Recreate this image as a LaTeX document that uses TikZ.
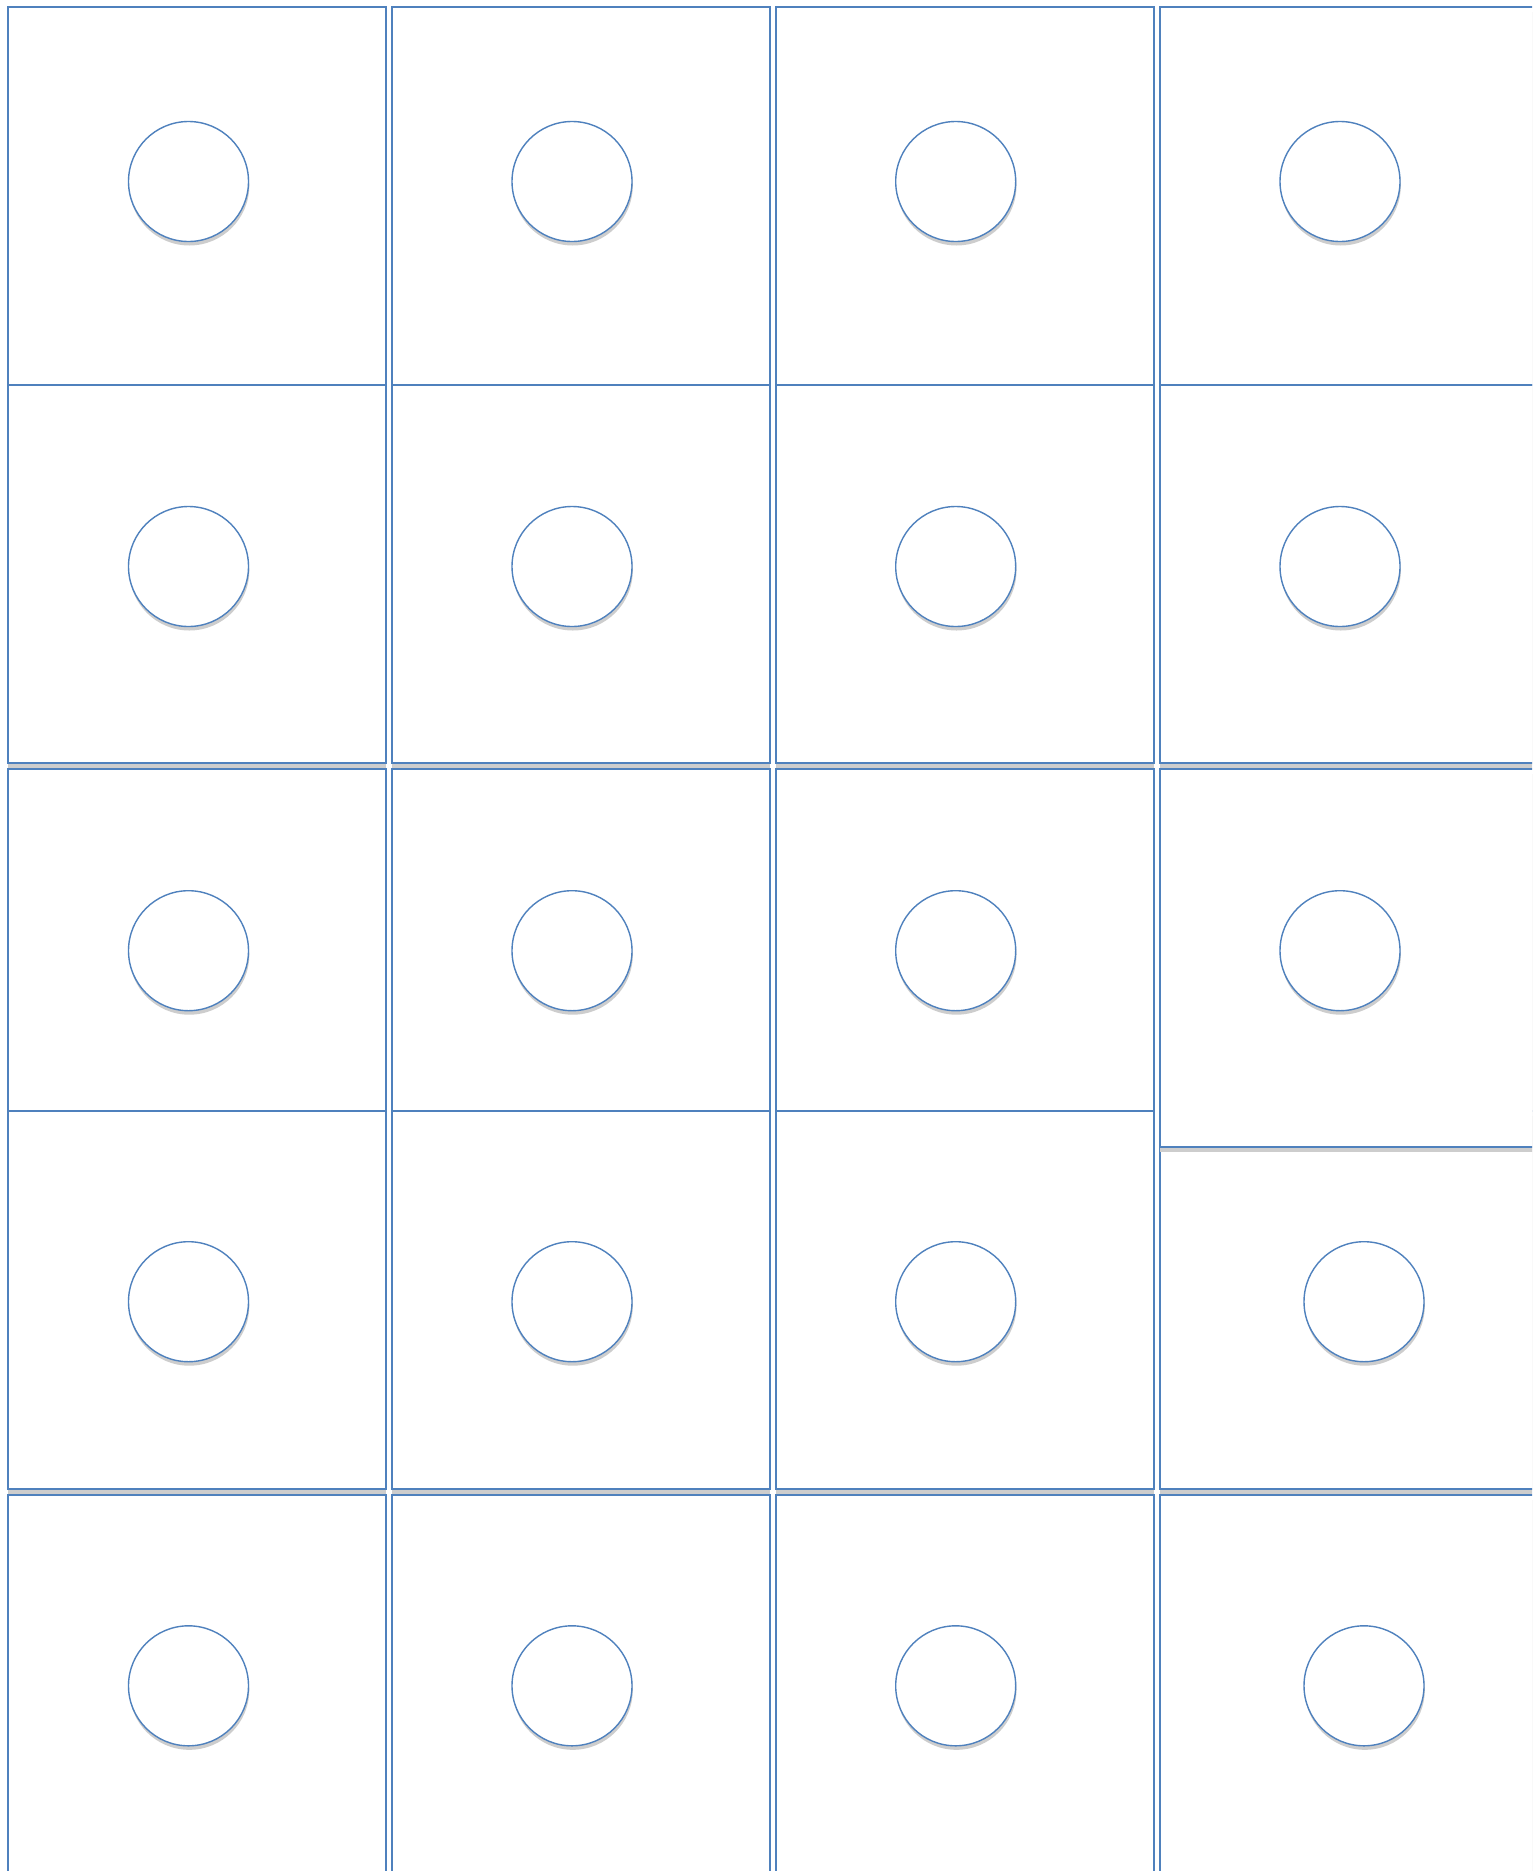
\documentclass[tikz,border=0pt]{standalone}
\usetikzlibrary{shadows}
\definecolor{boxblue}{RGB}{79,129,189}
\definecolor{shadowgray}{RGB}{205,205,205}
\begin{document}
\begin{tikzpicture}[x=1pt,y=-1pt,
 cell/.style={rectangle, draw=boxblue, line width=1.8pt, fill=white,
   minimum width=378pt, minimum height=378pt, inner sep=0pt, outer sep=0pt,
   drop shadow={shadow xshift=0pt, shadow yshift=-5pt, fill=shadowgray, opacity=1}},
 hole/.style={circle, draw=boxblue, line width=1.4pt, fill=white,
   minimum size=120pt, inner sep=0pt, outer sep=0pt,
   drop shadow={shadow xshift=0.8pt, shadow yshift=-4pt, fill=shadowgray, opacity=1}}]
\useasboundingbox (0,0) rectangle (1532,1871);
\fill[white] (0,0) rectangle (1532,1871);
\clip (0,0) rectangle (1532,1871);
% row 1
\foreach \c/\x/\cx in {1/197/188.5, 2/581/572, 3/965/955.7, 4/1349/1340} {
  \node[cell] (b1\c) at (\x,196) {};
  \node[hole] (c1\c) at (\cx,181.5) {};
}
% row 2
\foreach \c/\x/\cx in {1/197/188.5, 2/581/572, 3/965/955.7, 4/1349/1340} {
  \node[cell] (b2\c) at (\x,574) {};
  \node[hole] (c2\c) at (\cx,566.5) {};
}
% row 3, columns 1-3
\foreach \c/\x/\cx in {1/197/188.5, 2/581/572, 3/965/955.7} {
  \node[cell] (b3\c) at (\x,958.3) {};
  \node[hole] (c3\c) at (\cx,950.7) {};
}
% row 4, column 4 (lies under row 3, column 4)
\node[cell] (b44) at (1349,1300) {};
\node[hole] (c44) at (1364,1301.7) {};
% row 3, column 4
\node[cell] (b34) at (1349,958.3) {};
\node[hole] (c34) at (1340,950.7) {};
% row 4, columns 1-3
\foreach \c/\x/\cx in {1/197/188.5, 2/581/572, 3/965/955.7} {
  \node[cell] (b4\c) at (\x,1300) {};
  \node[hole] (c4\c) at (\cx,1301.7) {};
}
% row 5
\foreach \c/\x/\cx in {1/197/188.5, 2/581/572, 3/965/955.7, 4/1349/1364} {
  \node[cell] (b5\c) at (\x,1684) {};
  \node[hole] (c5\c) at (\cx,1685.8) {};
}
\end{tikzpicture}
\end{document}
